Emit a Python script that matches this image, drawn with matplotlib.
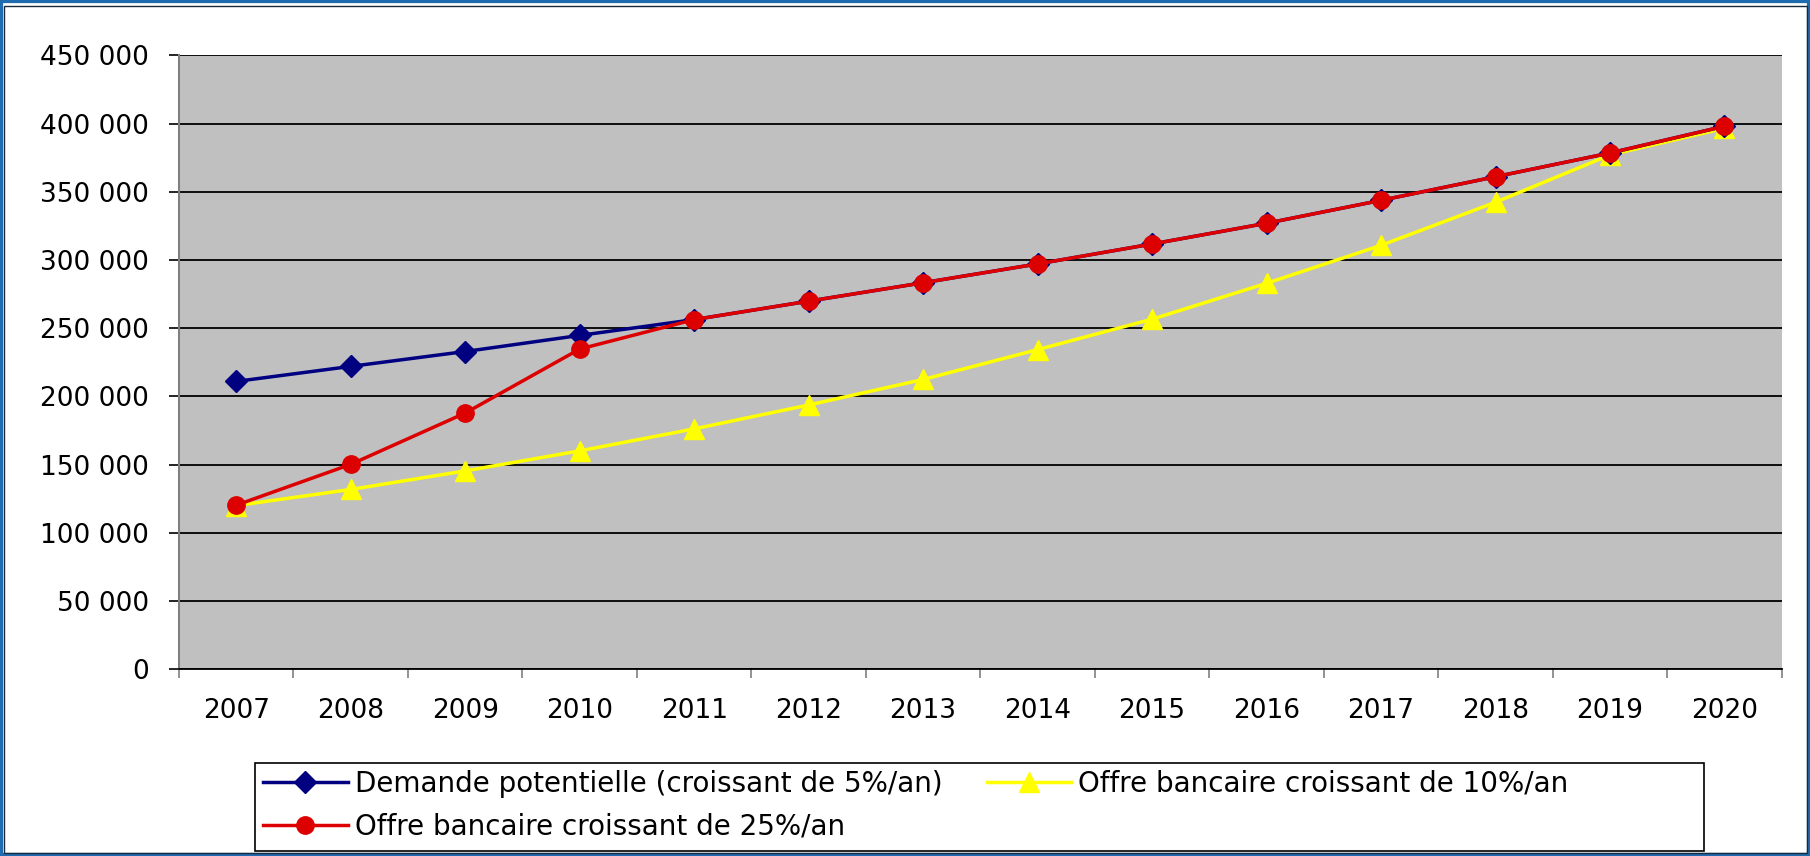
import matplotlib
matplotlib.use("Agg")
import matplotlib.pyplot as plt
from matplotlib.patches import Rectangle
from matplotlib.ticker import FuncFormatter, FixedLocator

# Values
years = ["2007", "2008", "2009", "2010", "2011", "2012", "2013",
         "2014", "2015", "2016", "2017", "2018", "2019", "2020"]
demande = [211000, 222000, 232900, 244700, 256300, 269800, 283300,
           297100, 311700, 326900, 343700, 361000, 378400, 398000]
offre_10 = [120000, 131800, 145400, 160100, 176200, 193700, 212400,
            234300, 256600, 282900, 310700, 342300, 377000, 396500]
offre_25 = [120300, 150200, 187800, 234700, 256300, 269800, 283300,
            297100, 311700, 326900, 343700, 361000, 378400, 398000]

label_dem = "Demande potentielle (croissant de 5%/an)"
label_10 = "Offre bancaire croissant de 10%/an"
label_25 = "Offre bancaire croissant de 25%/an"

plt.rcParams['font.family'] = ['DejaVu Sans']

W, H = 1810, 856
fig = plt.figure(figsize=(W / 100, H / 100), dpi=100)
ax = fig.add_axes([179 / W, 1 - 669.3 / H, (1781.7 - 179) / W, (669.3 - 55.3) / H])
ax.set_facecolor('#C0C0C0')

x = list(range(len(years)))
l10, = ax.plot(x, offre_10, color='#FFFF00', lw=2.5, marker='^', ms=14,
               markeredgecolor='#FFFF00', label=label_10, zorder=3, clip_on=False)
ldem, = ax.plot(x, demande, color='#000080', lw=2.5, marker='D', ms=11,
                markeredgecolor='#000080', label=label_dem, zorder=4, clip_on=False)
l25, = ax.plot(x, offre_25, color='#DD0000', lw=2.5, marker='o', ms=12.5,
               markeredgecolor='#DD0000', label=label_25, zorder=5, clip_on=False)

ax.set_xlim(-0.5, len(years) - 0.5)
ax.set_ylim(0, 450000)
ax.set_yticks(range(0, 450001, 50000))
ax.yaxis.set_major_formatter(FuncFormatter(lambda v, p: f"{int(v):,}".replace(",", " ")))
ax.yaxis.grid(True, color='black', lw=1.3)
ax.set_axisbelow(True)

# ticks at category boundaries, labels at the centres
ax.xaxis.set_major_locator(FixedLocator([i - 0.5 for i in range(len(years) + 1)]))
ax.xaxis.set_major_formatter(FuncFormatter(lambda v, p: ""))
ax.xaxis.set_minor_locator(FixedLocator(x))
ax.set_xticklabels(years, minor=True)
ax.tick_params(axis='x', which='major', length=6.5, width=1.2, color='#808080', direction='out')
ax.tick_params(axis='x', which='minor', length=0, pad=21, labelsize=19)
ax.tick_params(axis='y', length=7.5, width=1.2, color='black', pad=14, labelsize=19)

ax.spines['top'].set_visible(False)
ax.spines['right'].set_visible(False)
ax.spines['left'].set_color('#808080')
ax.spines['left'].set_linewidth(1.5)
ax.spines['bottom'].set_color('black')
ax.spines['bottom'].set_linewidth(1.3)

leg = fig.legend([ldem, l25, l10], [label_dem, label_25, label_10], ncol=2,
                 loc='upper left', bbox_to_anchor=(263 / W, 1 - 770 / H),
                 borderaxespad=0, borderpad=0, fontsize=20, frameon=False,
                 handlelength=3.05, handletextpad=0.25, columnspacing=1.6,
                 labelspacing=0.53)

# legend box (Excel leaves extra room on the right)
fig.patches.append(Rectangle((255 / W, 5 / H), (1704 - 255) / W, 88 / H,
                             transform=fig.transFigure, fill=False,
                             edgecolor='black', lw=1.2))

# outer blue frame
fig.patches.append(Rectangle((0, 0), 1, 1, transform=fig.transFigure, fill=False,
                             edgecolor='#1F6BB0', lw=4.5, zorder=10))
fig.patches.append(Rectangle((3.5 / W, 3 / H), 1 - 7 / W, 1 - 8.5 / H,
                             transform=fig.transFigure, fill=False,
                             edgecolor='#1A2A3A', lw=1.0, zorder=11))

fig.savefig('out.png', dpi=100)
